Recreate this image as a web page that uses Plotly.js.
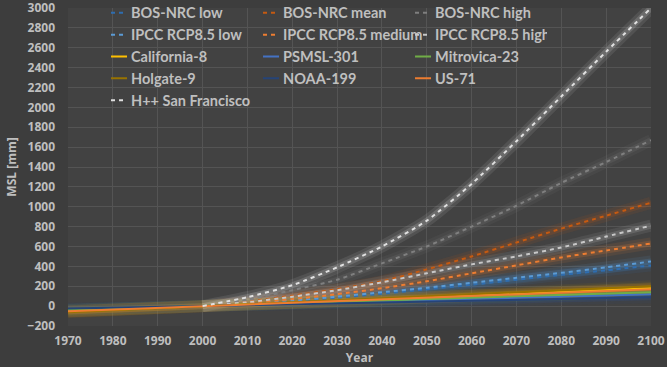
<!DOCTYPE html>
<html>
<head>
<meta charset="utf-8">
<script src="https://cdn.plot.ly/plotly-3.0.1.min.js"></script>
<style>html,body{margin:0;padding:0;background:#3d3d3d;}#chart{width:667px;height:367px;}</style>
</head>
<body>
<div id="chart"></div>
<script>
// ---- data ----
const projYears = [2000, 2010, 2020, 2030, 2040, 2050, 2060, 2070, 2080, 2090, 2100];
const bosLow    = [0, 22, 50, 85, 125, 170, 215, 265, 315, 360, 410];
const bosMean   = [0, 45, 105, 170, 250, 370, 500, 640, 780, 910, 1040];
const bosHigh   = [0, 65, 160, 265, 430, 600, 800, 1010, 1240, 1450, 1670];
const ipccLow   = [0, 25, 55, 95, 140, 185, 235, 285, 335, 390, 450];
const ipccMed   = [0, 30, 70, 120, 180, 250, 330, 410, 490, 560, 630];
const ipccHigh  = [0, 40, 95, 160, 240, 330, 420, 500, 590, 700, 810];
const hppSF     = [0, 90, 210, 390, 600, 860, 1230, 1660, 2110, 2560, 3000];

const trendYears  = [1970, 2100];
const california8 = [-55, 180];
const psmsl301    = [-35, 120];
const mitrovica23 = [-40, 140];
const holgate9    = [-62, 200];
const noaa199     = [-25, 90];
const us71        = [-52, 170];

const xTicks = [1970, 1980, 1990, 2000, 2010, 2020, 2030, 2040, 2050, 2060, 2070, 2080, 2090, 2100];

// ---- series definitions ----
const series = [
  {name: 'BOS-NRC low',        x: projYears,  y: bosLow,      color: '#2e6db0', dash: true},
  {name: 'BOS-NRC mean',       x: projYears,  y: bosMean,     color: '#c55a11', dash: true},
  {name: 'BOS-NRC high',       x: projYears,  y: bosHigh,     color: '#7f7f7f', dash: true},
  {name: 'IPCC RCP8.5 low',    x: projYears,  y: ipccLow,     color: '#5b9bd5', dash: true},
  {name: 'IPCC RCP8.5 medium', x: projYears,  y: ipccMed,     color: '#ed7d31', dash: true},
  {name: 'IPCC RCP8.5 high',   x: projYears,  y: ipccHigh,    color: '#c8c8c8', dash: true},
  {name: 'California-8',       x: trendYears, y: california8, color: '#ffc000', dash: false},
  {name: 'PSMSL-301',          x: trendYears, y: psmsl301,    color: '#4472c4', dash: false},
  {name: 'Mitrovica-23',       x: trendYears, y: mitrovica23, color: '#70ad47', dash: false},
  {name: 'Holgate-9',          x: trendYears, y: holgate9,    color: '#997300', dash: false},
  {name: 'NOAA-199',           x: trendYears, y: noaa199,     color: '#264478', dash: false},
  {name: 'US-71',              x: trendYears, y: us71,        color: '#ed7d31', dash: false},
  {name: 'H++ San Francisco',  x: projYears,  y: hppSF,       color: '#e0e0e0', dash: true}
];

const traces = [];
// glow layers
series.forEach(s => {
  traces.push({x: s.x, y: s.y, type: 'scatter', mode: 'lines', showlegend: false, hoverinfo: 'skip',
    opacity: 0.1, line: {color: s.color, width: 12, shape: 'spline', smoothing: 0.6}});
  traces.push({x: s.x, y: s.y, type: 'scatter', mode: 'lines', showlegend: false, hoverinfo: 'skip',
    opacity: 0.18, line: {color: s.color, width: 6, shape: 'spline', smoothing: 0.6}});
});
// main lines
series.forEach(s => {
  traces.push({x: s.x, y: s.y, type: 'scatter', mode: 'lines', name: s.name,
    line: {color: s.color, width: 2, dash: s.dash ? '4px,4px' : 'solid', shape: 'spline', smoothing: 0.6}});
});

const txt = '#bfbfbf';
const layout = {
  width: 667, height: 367,
  paper_bgcolor: '#3d3d3d',
  plot_bgcolor: '#424242',
  margin: {l: 68, r: 16, t: 8, b: 41, autoexpand: false},
  font: {family: 'Open Sans, sans-serif', color: txt, size: 12, weight: 'bold'},
  xaxis: {
    range: [1970, 2100], tickvals: xTicks, ticktext: xTicks.map(String),
    showgrid: true, gridcolor: '#545454', gridwidth: 1, zeroline: false, showline: false,
    ticks: '', ticklabelstandoff: 6, ticklabeloverflow: 'allow',
    tickfont: {family: 'Open Sans, sans-serif', size: 12, color: txt, weight: 'bold'},
    title: {text: 'Year', standoff: 2, font: {family: 'Open Sans, sans-serif', size: 12, color: txt, weight: 'bold'}}
  },
  yaxis: {
    range: [-200, 3000], dtick: 200, tick0: 0,
    showgrid: true, gridcolor: '#545454', gridwidth: 1, zeroline: false, showline: false,
    ticks: '', ticklabelstandoff: 12, ticklabeloverflow: 'allow',
    tickfont: {family: 'Open Sans, sans-serif', size: 12, color: txt, weight: 'bold'},
    title: {text: 'MSL [mm]', standoff: 8, font: {family: 'Open Sans, sans-serif', size: 12, color: txt, weight: 'bold'}}
  },
  legend: {
    orientation: 'h', x: 0.0395, xanchor: 'left', y: 1.035, yanchor: 'top',
    bgcolor: 'rgba(0,0,0,0)', entrywidth: 107, entrywidthmode: 'pixels',
    font: {family: 'Lato, sans-serif', size: 14.5, color: txt, weight: 'bold'},
    traceorder: 'normal'
  },
  showlegend: true
};

Plotly.newPlot('chart', traces, layout, {displayModeBar: false, staticPlot: true}).then(gd => {
  // shorten the legend line symbols, as in the reference
  gd.querySelectorAll('.legend .legendlines path').forEach(p => p.setAttribute('d', 'M20,0h16'));
});
</script>
</body>
</html>
